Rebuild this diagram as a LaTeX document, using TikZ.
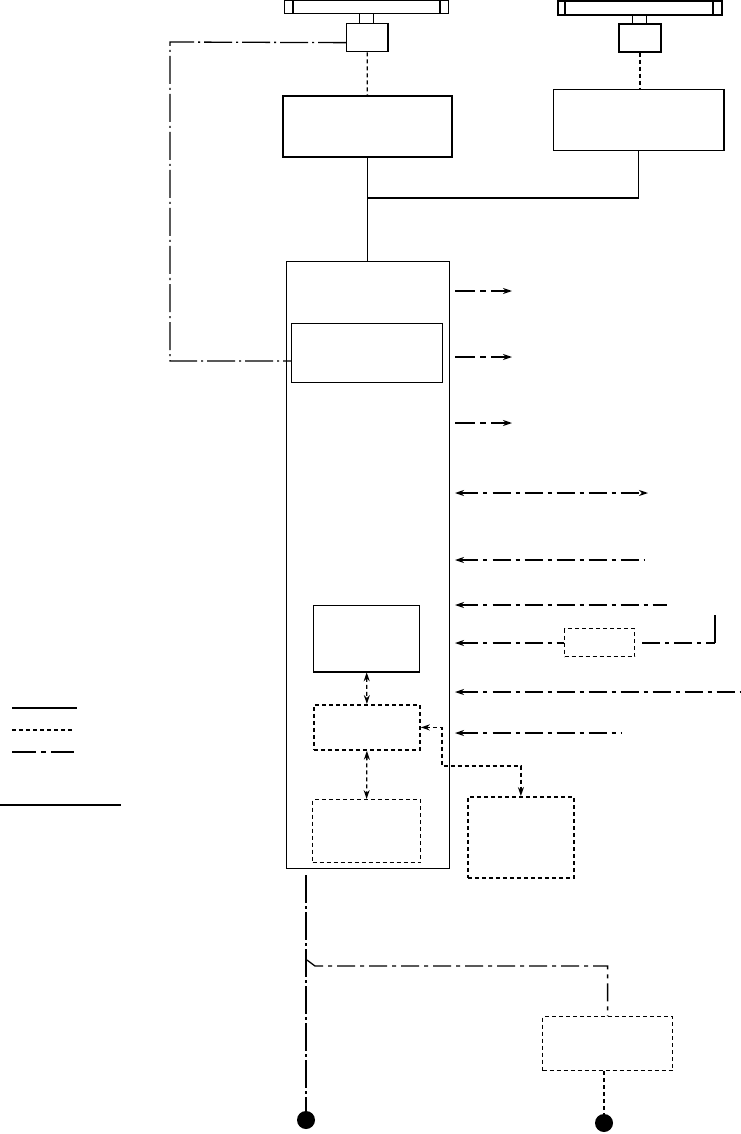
\documentclass[tikz,border=0pt]{standalone}
\usetikzlibrary{arrows.meta,calc}
\begin{document}
\begin{tikzpicture}[x=1pt,y=-1pt,
  bx/.style={draw,line width=1.3pt,inner sep=0pt,anchor=north west},
  dbx/.style={bx,dash pattern=on 4pt off 3pt,line width=1.8pt},
  tdbx/.style={bx,dash pattern=on 4pt off 3pt,line width=1.2pt},
  dd/.style={line width=1.3pt,dash pattern=on 18pt off 5pt on 4pt off 5pt},
  ddbig/.style={line width=1.3pt,dash pattern=on 28pt off 4pt on 2pt off 4pt},
  dsh/.style={line width=1.3pt,dash pattern=on 4pt off 3pt},
  tip/.style={-{Stealth[length=9pt,width=6pt]}},
  btip/.style={{Stealth[length=9pt,width=6pt]}-{Stealth[length=9pt,width=6pt]}},
  ltip/.style={{Stealth[length=9pt,width=6pt]}-}]
\useasboundingbox (0,0) rectangle (740,1134);
% top left unit
\node[bx,minimum width=164pt,minimum height=13pt] (barL) at (284,0) {};
\draw[line width=1.2pt] (293,0) -- (293,13) (440,0) -- (440,13);
\node[bx,minimum width=14pt,minimum height=10pt] (connL) at (359,13) {};
\node[bx,minimum width=41pt,minimum height=28pt] (camL) at (346,23) {};
\draw[line width=2.2pt] (camL.north east) -- (camL.south east);
\node[bx,line width=1.7pt,minimum width=169pt,minimum height=61pt] (boxA) at (282,95) {};
% top right unit
\node[bx,line width=1.7pt,minimum width=164pt,minimum height=14pt] (barR) at (557,0) {};
\draw[line width=1.2pt] (565,0) -- (565,14) (713,0) -- (713,14);
\node[bx,minimum width=14pt,minimum height=9pt] (connR) at (632,14) {};
\node[bx,line width=1.7pt,minimum width=42pt,minimum height=28pt] (camR) at (618,23) {};
\node[bx,minimum width=170pt,minimum height=61pt] (boxB) at (553,89) {};
\draw[line width=2.2pt] (boxB.north east) -- (boxB.south east);
% main unit
\node[bx,minimum width=163pt,minimum height=607pt] (main) at (286,261) {};
\node[bx,minimum width=151pt,minimum height=59pt] (boxC) at (291,323) {};
\node[bx,minimum width=106pt,minimum height=66pt] (boxD) at (313,605) {};
\draw[line width=2.2pt] (boxD.south west) -- (boxD.south east);
\node[dbx,minimum width=106pt,minimum height=45pt] (boxE) at (313,704) {};
\node[tdbx,minimum width=108pt,minimum height=63pt] (boxF) at (312,799) {};
\node[dbx,minimum width=106pt,minimum height=81pt] (boxG) at (467,796) {};
\node[tdbx,minimum width=70pt,minimum height=28pt] (boxH) at (564,628) {};
\node[tdbx,minimum width=130pt,minimum height=54pt] (boxI) at (542,1016) {};
\node[circle,fill=black,inner sep=0pt,minimum size=18pt] (c1) at (306,1120) {};
\node[circle,fill=black,inner sep=0pt,minimum size=18pt] (c2) at (604,1123) {};
% connections top
\draw[dsh] (camL.south) -- (boxA.north);
\draw[dsh] (camR.south) -- (camR.south |- boxB.north);
\coordinate (j) at (367,198);
\draw[line width=1.3pt] (boxA.south) -- (boxA.south |- main.north);
\draw[line width=1.3pt] (boxB.south) |- (j);
\coordinate (k1) at (170,42);
\coordinate (k2) at (170,361);
\draw[ddbig] ($(camL.west)+(0,5)$) -- (k1) -- (k2) -- (k2 -| boxC.west);
% right side arrows
\foreach \y/\n in {291/o1,357/o2,423/o3}{
  \coordinate (s\n) at (455,\y);
  \coordinate (e\n) at (512,\y);
  \draw[tip,line width=1.3pt,dash pattern=on 20pt off 5pt on 6pt off 5pt] (s\n) -- (e\n);
}
\coordinate (sb) at (455,493); \coordinate (eb) at (648,493);
\draw[btip,dd] (sb) -- (eb);
\coordinate (si1) at (455,560); \coordinate (ei1) at (645,560);
\draw[ltip,dd] (si1) -- (ei1);
\coordinate (si2) at (455,605); \coordinate (ei2) at (667,605);
\draw[ltip,dd] (si2) -- (ei2);
\coordinate (si3) at (455,643);
\draw[ltip,dd] (si3) -- (si3 -| boxH.west);
\coordinate (h1) at (642,643); \coordinate (h2) at (715,643); \coordinate (h3) at (715,615);
\draw[line width=1.8pt,dash pattern=on 18pt off 5pt on 4pt off 5pt] (h1) -- (h2);
\draw[line width=1.3pt] (h2) -- (h3);
\coordinate (si4) at (455,692); \coordinate (ei4) at (740,692);
\draw[ltip,dd] (si4) -- (ei4);
\coordinate (si5) at (455,733); \coordinate (ei5) at (622,733);
\draw[ltip,dd] (si5) -- (ei5);
% inner connections
\draw[btip,dsh] (boxD.south) -- (boxE.north);
\draw[btip,dsh] (boxE.south) -- (boxF.north);
\coordinate (g1) at (442,766);
\draw[btip,dsh,line width=1.8pt] (boxE.east) -| (g1) -| (boxG.north);
% bottom
\coordinate (b0) at (306,875);
\draw[line width=2.2pt,dash pattern=on 28pt off 3pt on 3pt off 3pt] (b0) -- (c1.north);
\coordinate (b1) at (307,960);
\coordinate (b2) at (315,966);
\draw[dd] (b1) -- (b2) -- (b2 -| boxI.north) -- (boxI.north);
\draw[dsh] (boxI.south -| c2) -- (c2.north);
% legend
\coordinate (l1) at (12,708); \coordinate (l2) at (77,708);
\draw[line width=2.2pt] (l1) -- (l2);
\coordinate (l3) at (12,730); \coordinate (l4) at (74,730);
\draw[dsh] (l3) -- (l4);
\coordinate (l5) at (12,752); \coordinate (l6) at (74,752);
\draw[line width=1.3pt,dash pattern=on 24pt off 5pt on 5pt off 5pt] (l5) -- (l6);
\coordinate (l7) at (0,805); \coordinate (l8) at (121,805);
\draw[line width=2.2pt] (l7) -- (l8);
\end{tikzpicture}
\end{document}
